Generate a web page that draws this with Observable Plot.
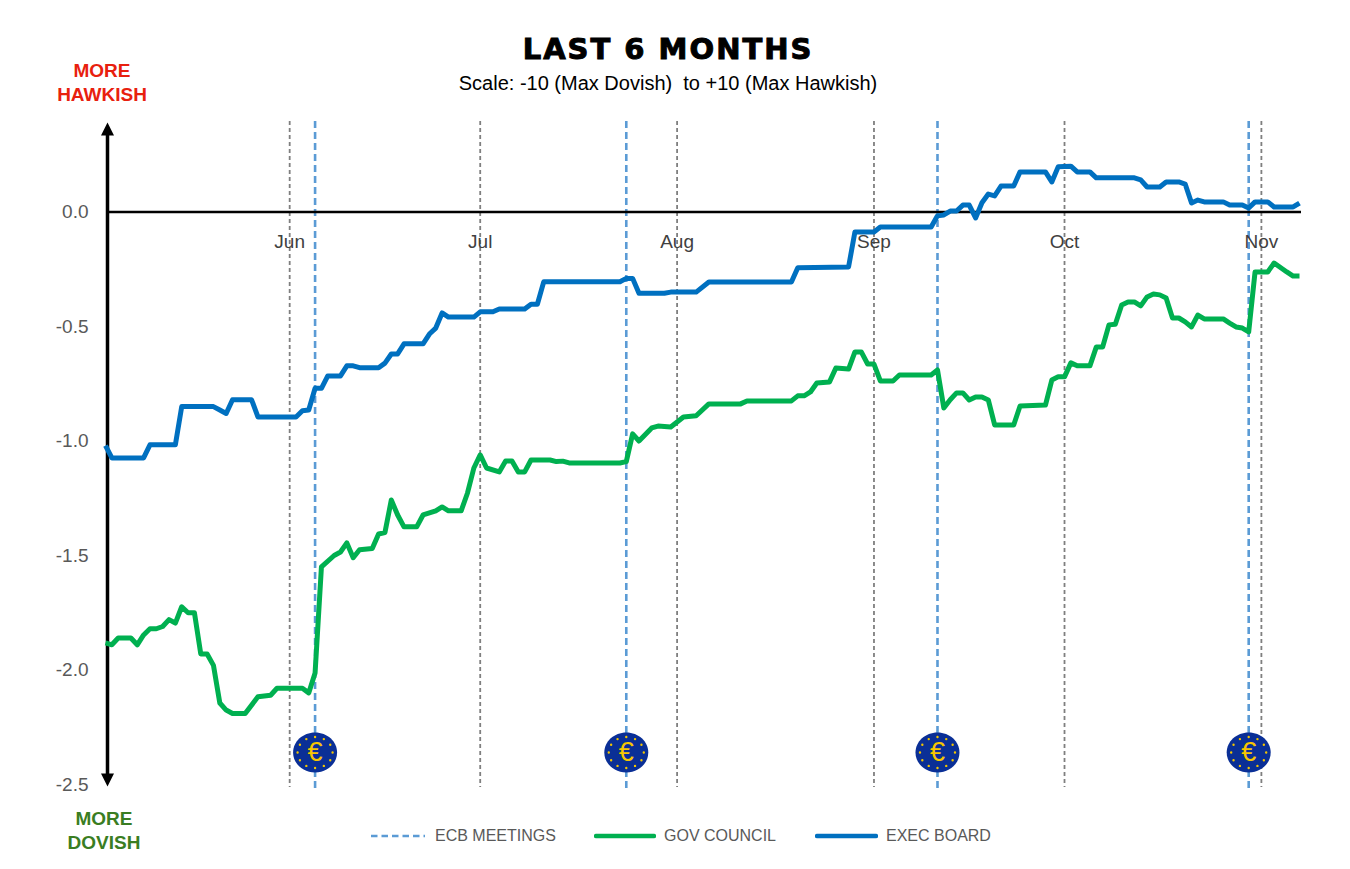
<!DOCTYPE html>
<html>
<head>
<meta charset="utf-8">
<script src="https://cdn.jsdelivr.net/npm/d3@7"></script>
<script src="https://cdn.jsdelivr.net/npm/@observablehq/plot@0.6"></script>
<style>
  html, body { margin: 0; padding: 0; background: #ffffff; }
  #wrap { position: relative; width: 1350px; height: 869px; overflow: hidden; font-family: "Liberation Sans", Arial, sans-serif; }
  #chart { position: absolute; left: 0; top: 0; }
  .abs { position: absolute; white-space: nowrap; line-height: 1; }
  #title { left: 0; width: 1336px; text-align: center; top: 35px; font-family: "DejaVu Sans", sans-serif; font-weight: bold; font-size: 29px; letter-spacing: 2px; color: #000; -webkit-text-stroke: 1px #000; }
  #subtitle { left: 0; width: 1336px; text-align: center; top: 73px; font-size: 20px; color: #000; }
  .side { width: 140px; text-align: center; font-weight: bold; font-size: 19px; }
  #hawk { left: 32px; top: 59px; color: #e8200e; line-height: 24px; }
  #dove { left: 34px; top: 807px; color: #3a7d22; line-height: 24px; }
  #legend { left: 0; top: 826px; width: 1350px; height: 20px; font-size: 16px; color: #595959; }
  .item { position: absolute; top: 0; display: flex; align-items: center; height: 20px; }
  .item svg { margin-right: 8px; }
</style>
</head>
<body>
<div id="wrap">
  <div id="chart"></div>
  <div id="title" class="abs">LAST 6 MONTHS</div>
  <div id="subtitle" class="abs">Scale: -10 (Max Dovish)&nbsp; to +10 (Max Hawkish)</div>
  <div id="hawk" class="abs side">MORE<br>HAWKISH</div>
  <div id="dove" class="abs side">MORE<br>DOVISH</div>
  <div id="legend" class="abs"></div>
</div>
<script>
// ---------- DATA ----------
const startDate = "2025-05-03";
const endDate = "2025-11-07";

const execDates = ["2025-05-03","2025-05-04","2025-05-09","2025-05-10","2025-05-14","2025-05-15","2025-05-20","2025-05-21","2025-05-22","2025-05-23","2025-05-26","2025-05-27","2025-06-02","2025-06-03","2025-06-04","2025-06-05","2025-06-06","2025-06-07","2025-06-09","2025-06-10","2025-06-11","2025-06-12","2025-06-15","2025-06-16","2025-06-17","2025-06-18","2025-06-19","2025-06-22","2025-06-23","2025-06-24","2025-06-25","2025-06-26","2025-06-30","2025-07-01","2025-07-03","2025-07-04","2025-07-08","2025-07-09","2025-07-10","2025-07-11","2025-07-23","2025-07-24","2025-07-25","2025-07-26","2025-07-30","2025-07-31","2025-08-04","2025-08-06","2025-08-19","2025-08-20","2025-08-28","2025-08-29","2025-09-01","2025-09-02","2025-09-10","2025-09-11","2025-09-12","2025-09-13","2025-09-14","2025-09-15","2025-09-16","2025-09-17","2025-09-18","2025-09-19","2025-09-20","2025-09-21","2025-09-23","2025-09-24","2025-09-28","2025-09-29","2025-09-30","2025-10-02","2025-10-03","2025-10-05","2025-10-06","2025-10-12","2025-10-13","2025-10-14","2025-10-16","2025-10-17","2025-10-19","2025-10-20","2025-10-21","2025-10-22","2025-10-23","2025-10-26","2025-10-27","2025-10-29","2025-10-30","2025-10-31","2025-11-02","2025-11-03","2025-11-06","2025-11-07"];
const execValues = [-1.02,-1.074,-1.074,-1.017,-1.017,-0.85,-0.85,-0.865,-0.88,-0.82,-0.82,-0.895,-0.895,-0.868,-0.865,-0.77,-0.77,-0.716,-0.716,-0.672,-0.672,-0.68,-0.68,-0.66,-0.62,-0.62,-0.576,-0.576,-0.533,-0.507,-0.441,-0.459,-0.459,-0.436,-0.436,-0.424,-0.424,-0.403,-0.403,-0.305,-0.305,-0.29,-0.29,-0.355,-0.355,-0.35,-0.35,-0.306,-0.306,-0.244,-0.24,-0.087,-0.087,-0.066,-0.066,-0.017,-0.013,0.004,0.004,0.03,0.03,-0.026,0.04,0.078,0.07,0.113,0.113,0.175,0.175,0.131,0.197,0.2,0.175,0.175,0.149,0.149,0.14,0.109,0.109,0.131,0.131,0.122,0.039,0.052,0.044,0.044,0.03,0.03,0.017,0.044,0.044,0.022,0.022,0.039];

const govDates = ["2025-05-03","2025-05-04","2025-05-05","2025-05-07","2025-05-08","2025-05-09","2025-05-10","2025-05-11","2025-05-12","2025-05-13","2025-05-14","2025-05-15","2025-05-16","2025-05-17","2025-05-18","2025-05-19","2025-05-20","2025-05-21","2025-05-22","2025-05-23","2025-05-25","2025-05-27","2025-05-29","2025-05-30","2025-06-03","2025-06-04","2025-06-05","2025-06-06","2025-06-08","2025-06-09","2025-06-10","2025-06-11","2025-06-12","2025-06-14","2025-06-15","2025-06-16","2025-06-17","2025-06-18","2025-06-19","2025-06-21","2025-06-22","2025-06-24","2025-06-25","2025-06-26","2025-06-28","2025-06-29","2025-06-30","2025-07-01","2025-07-02","2025-07-04","2025-07-05","2025-07-06","2025-07-07","2025-07-08","2025-07-09","2025-07-12","2025-07-13","2025-07-14","2025-07-15","2025-07-23","2025-07-24","2025-07-25","2025-07-26","2025-07-28","2025-07-29","2025-07-31","2025-08-02","2025-08-04","2025-08-06","2025-08-11","2025-08-12","2025-08-19","2025-08-20","2025-08-21","2025-08-22","2025-08-23","2025-08-25","2025-08-26","2025-08-28","2025-08-29","2025-08-30","2025-08-31","2025-09-01","2025-09-02","2025-09-04","2025-09-05","2025-09-10","2025-09-11","2025-09-12","2025-09-13","2025-09-14","2025-09-15","2025-09-16","2025-09-17","2025-09-18","2025-09-19","2025-09-20","2025-09-23","2025-09-24","2025-09-28","2025-09-29","2025-09-30","2025-10-01","2025-10-02","2025-10-03","2025-10-05","2025-10-06","2025-10-07","2025-10-08","2025-10-09","2025-10-10","2025-10-11","2025-10-12","2025-10-13","2025-10-14","2025-10-15","2025-10-16","2025-10-17","2025-10-18","2025-10-19","2025-10-20","2025-10-21","2025-10-22","2025-10-23","2025-10-26","2025-10-27","2025-10-28","2025-10-29","2025-10-30","2025-10-31","2025-11-02","2025-11-03","2025-11-05","2025-11-06","2025-11-07"];
const govValues = [-1.882,-1.89,-1.86,-1.86,-1.89,-1.847,-1.82,-1.82,-1.81,-1.78,-1.795,-1.724,-1.75,-1.75,-1.93,-1.93,-1.98,-2.144,-2.175,-2.19,-2.19,-2.117,-2.11,-2.08,-2.08,-2.1,-2.013,-1.55,-1.5,-1.485,-1.445,-1.51,-1.475,-1.47,-1.406,-1.4,-1.258,-1.323,-1.375,-1.375,-1.323,-1.305,-1.288,-1.305,-1.305,-1.227,-1.118,-1.061,-1.118,-1.135,-1.087,-1.087,-1.135,-1.135,-1.083,-1.083,-1.09,-1.088,-1.096,-1.096,-1.09,-0.969,-1.0,-0.943,-0.935,-0.939,-0.895,-0.89,-0.838,-0.838,-0.825,-0.825,-0.803,-0.803,-0.786,-0.747,-0.742,-0.681,-0.686,-0.611,-0.611,-0.664,-0.664,-0.738,-0.738,-0.712,-0.712,-0.69,-0.856,-0.82,-0.79,-0.79,-0.821,-0.808,-0.808,-0.821,-0.93,-0.93,-0.847,-0.843,-0.734,-0.72,-0.72,-0.659,-0.672,-0.672,-0.59,-0.59,-0.493,-0.49,-0.406,-0.393,-0.393,-0.41,-0.371,-0.358,-0.362,-0.376,-0.463,-0.463,-0.48,-0.502,-0.45,-0.467,-0.467,-0.485,-0.502,-0.507,-0.524,-0.262,-0.262,-0.223,-0.262,-0.28,-0.28];

const meetingDates = ["2025-06-05","2025-07-24","2025-09-11","2025-10-30"];
const monthTicks = ["2025-06-01","2025-07-01","2025-08-01","2025-09-01","2025-10-01","2025-11-01"];
const monthLabels = ["Jun","Jul","Aug","Sep","Oct","Nov"];
const yTicks = [0, -0.5, -1, -1.5, -2, -2.5];
const yTop = 0.395;
const yBottom = -2.5;

const seriesNames = ["ECB MEETINGS", "GOV COUNCIL", "EXEC BOARD"];
const colors = { meet: "#5b9bd5", gov: "#00b050", exec: "#0070c0", grid: "#7f7f7f" };

// ---------- BUILD ----------
const parse = d3.utcParse("%Y-%m-%d");
const execData = execDates.map((d, i) => ({ date: parse(d), value: execValues[i] }));
const govData = govDates.map((d, i) => ({ date: parse(d), value: govValues[i] }));
const meetings = meetingDates.map(parse);
const months = monthTicks.map((d, i) => ({ date: parse(d), label: monthLabels[i] }));

// custom symbols
const arrowUp = { draw(ctx) { ctx.moveTo(0, 1); ctx.lineTo(6.5, 14); ctx.lineTo(-6.5, 14); ctx.closePath(); } };
const arrowDown = { draw(ctx) { ctx.moveTo(0, 2); ctx.lineTo(6.5, -11); ctx.lineTo(-6.5, -11); ctx.closePath(); } };
const ellipse = { draw(ctx) {
  const rx = 22, ry = 20, k = 0.5523;
  ctx.moveTo(rx, 0);
  ctx.bezierCurveTo(rx, ry * k, rx * k, ry, 0, ry);
  ctx.bezierCurveTo(-rx * k, ry, -rx, ry * k, -rx, 0);
  ctx.bezierCurveTo(-rx, -ry * k, -rx * k, -ry, 0, -ry);
  ctx.bezierCurveTo(rx * k, -ry, rx, -ry * k, rx, 0);
  ctx.closePath();
} };
const starRing = { draw(ctx) {
  for (let i = 0; i < 12; i++) {
    const a = (i / 12) * 2 * Math.PI;
    const cx = 17.5 * Math.cos(a), cy = 15.5 * Math.sin(a);
    ctx.moveTo(cx + 1.2, cy);
    ctx.arc(cx, cy, 1.2, 0, 2 * Math.PI);
  }
} };

const chart = Plot.plot({
  width: 1350,
  height: 869,
  marginLeft: 105,
  marginRight: 51,
  marginTop: 121,
  marginBottom: 85,
  style: { fontFamily: "'Liberation Sans', Arial, sans-serif", fontSize: "19px", background: "transparent", overflow: "visible" },
  x: { type: "utc", domain: [parse(startDate), parse(endDate)], axis: null },
  y: { domain: [yBottom, yTop], axis: null },
  marks: [
    // month gridlines
    Plot.ruleX(months, { x: "date", stroke: colors.grid, strokeWidth: 1.8, strokeDasharray: "4,3", insetBottom: -3 }),
    // ECB meeting lines
    Plot.ruleX(meetings, { stroke: colors.meet, strokeWidth: 2.6, strokeDasharray: "7,4", insetBottom: -6 }),
    // y ticks
    Plot.axisY({ ticks: yTicks, label: null, tickSize: 0, tickPadding: 17, tickFormat: d => d.toFixed(1), fill: "#595959", fontSize: 19 }),
    // zero line
    Plot.ruleY([0], { stroke: "#000", strokeWidth: 2.6, dx: 2 }),
    // month labels
    Plot.text(months, { x: "date", y: () => 0, text: "label", dy: 30, fill: "#404040", fontSize: 19 }),
    // y axis with arrowheads
    Plot.ruleX([parse(startDate)], { stroke: "#000", strokeWidth: 3.5, insetTop: 8, insetBottom: 6, dx: 2 }),
    Plot.dot([yTop], { x: () => parse(startDate), y: d => d, dx: 2, symbol: arrowUp, r: 6, fill: "#000", stroke: "none" }),
    Plot.dot([yBottom], { x: () => parse(startDate), y: d => d, dx: 2, symbol: arrowDown, r: 6, fill: "#000", stroke: "none" }),
    // series
    Plot.line(govData, { x: "date", y: "value", stroke: colors.gov, strokeWidth: 5, strokeLinejoin: "round", strokeLinecap: "butt" }),
    Plot.line(execData, { x: "date", y: "value", stroke: colors.exec, strokeWidth: 5, strokeLinejoin: "round", strokeLinecap: "butt" }),
    // ECB icons
    Plot.dot(meetings, { x: d => d, frameAnchor: "bottom", dy: -32, symbol: ellipse, r: 20, fill: "#0a2f96", stroke: "none" }),
    Plot.dot(meetings, { x: d => d, frameAnchor: "bottom", dy: -32, symbol: starRing, r: 20, fill: "#f2c500", stroke: "none" }),
    Plot.text(meetings, { x: d => d, frameAnchor: "bottom", dy: -24, text: () => "€", fill: "#f7c600", fontSize: 27 })
  ]
});
document.getElementById("chart").appendChild(chart);

// ---------- LEGEND ----------
const legend = document.getElementById("legend");
const legendItems = [
  { name: seriesNames[0], color: colors.meet, dash: "6.5,4", left: 369, w: 58 },
  { name: seriesNames[1], color: colors.gov, dash: null, left: 594, w: 62 },
  { name: seriesNames[2], color: colors.exec, dash: null, left: 815, w: 63 }
];
legendItems.forEach(it => {
  const div = document.createElement("div");
  div.className = "item";
  div.style.left = it.left + "px";
  div.innerHTML = `<svg width="${it.w}" height="10"><line x1="2" y1="5" x2="${it.w - 2}" y2="5" stroke="${it.color}" stroke-width="${it.dash ? 2.6 : 4.5}" ${it.dash ? `stroke-dasharray="${it.dash}"` : 'stroke-linecap="round"'}/></svg><span>${it.name}</span>`;
  legend.appendChild(div);
});
</script>
</body>
</html>
